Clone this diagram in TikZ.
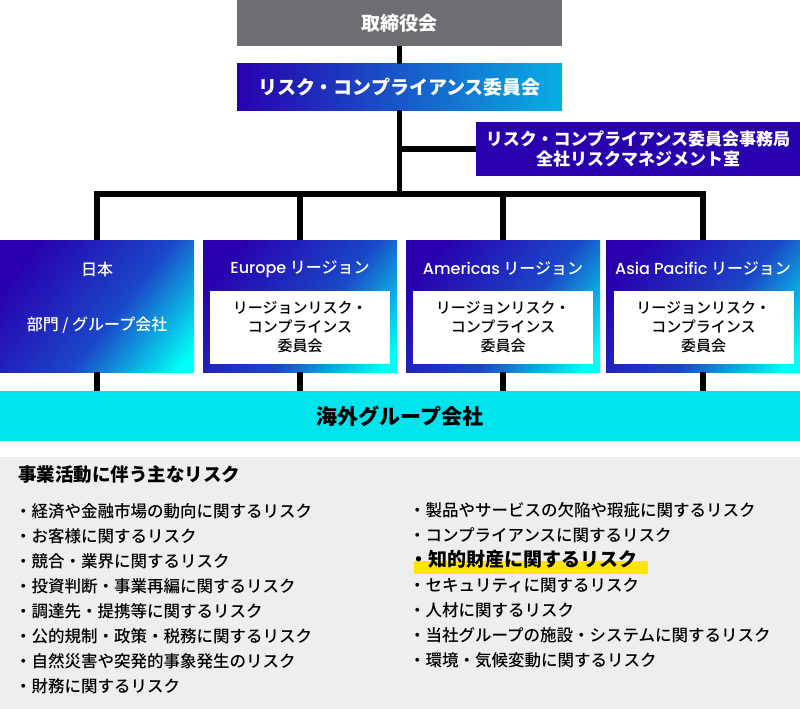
\documentclass[tikz,border=0pt]{standalone}
\usepackage{fontspec}
\setmainfont{Noto Sans CJK JP}
\newfontfamily\mediumfont{Noto Sans CJK JP Medium}
\newfontfamily\latinfont{Poppins Medium}
\definecolor{boardgray}{HTML}{6D6E71}
\definecolor{deepblue}{HTML}{2800AE}
\definecolor{royal}{HTML}{1A48C8}
\definecolor{skyblue}{HTML}{08AEE4}
\definecolor{aqua}{HTML}{00FFF6}
\definecolor{groupcyan}{HTML}{00E5EB}
\definecolor{panelgray}{HTML}{EEEEEE}
\definecolor{marker}{HTML}{FFE600}
\pgfdeclarehorizontalshading{regionfade}{100bp}{color(0bp)=(deepblue); color(24bp)=(deepblue); color(56bp)=(royal); color(81bp)=(aqua); color(100bp)=(aqua)}
\tikzset{
    link/.style={line width=5.5pt},
    headbox/.style={text=white, font=\bfseries\fontsize{19}{23}\selectfont, minimum width=325pt, minimum height=46pt, inner sep=0pt},
    regionbox/.style={shade, shading=regionfade, shading angle=-38, minimum width=194pt, minimum height=132pt, inner sep=0pt},
    regiontitle/.style={text=white, font=\mediumfont\fontsize{16}{20}\selectfont, inner sep=0pt},
    councilbox/.style={fill=white, minimum width=180pt, minimum height=73pt, align=center, font=\mediumfont\fontsize{15}{19}\selectfont, inner sep=0pt}
}
\begin{document}
\begin{tikzpicture}[x=1pt,y=-1pt]
        % Draw canvas
        \useasboundingbox (0,0) rectangle (800,709);
        % Draw board and committee
        \node[headbox,fill=boardgray] (board) at (399.5,23) {取締役会};
        \node[headbox,left color=deepblue,right color=skyblue] (committee) at (399.5,87) {リスク・コンプライアンス委員会};
        \node[headbox,fill=deepblue,minimum width=324pt,minimum height=54pt,align=center,font=\bfseries\fontsize{17}{20}\selectfont] (office) at (638,149) {リスク・コンプライアンス委員会事務局\\全社リスクマネジメント室};
        % Draw region boxes
        \node[regionbox] (japan) at (97,306) {};
        \node[regionbox] (europe) at (300,306) {};
        \node[regionbox] (americas) at (503,306) {};
        \node[regionbox] (asia) at (703,306) {};
        % Draw region texts
        \node[regiontitle] (japantitle) at (97,269) {日本};
        \node[regiontitle] (japangroup) at (97,325) {部門 / グループ会社};
        \node[regiontitle] (europetitle) at (300,269) {{\latinfont Europe} リージョン};
        \node[regiontitle] (americastitle) at (503,269) {{\latinfont Americas} リージョン};
        \node[regiontitle] (asiatitle) at (703,269) {{\latinfont Asia Pacific} リージョン};
        \node[councilbox] (europecouncil) at (300,327.5) {リージョンリスク・\\コンプラインス\\委員会};
        \node[councilbox] (americascouncil) at (503,327.5) {リージョンリスク・\\コンプラインス\\委員会};
        \node[councilbox] (asiacouncil) at (703.5,327.5) {リージョンリスク・\\コンプラインス\\委員会};
        % Draw overseas group companies
        \node[fill=groupcyan,minimum width=800pt,minimum height=50pt,inner sep=0pt,font=\bfseries\fontsize{21}{25}\selectfont] (overseas) at (400,416) {海外グループ会社\hspace{14pt}};
        % Draw connectors
        \coordinate (hub) at (399.5,194);
        \draw[link] (board) -- (committee);
        \draw[link] (committee) -- (hub);
        \draw[link] (committee.south |- office.west) -- (office.west);
        \draw[link] (japan.north) -- (japan.north |- hub) -- (asia.north |- hub) -- (asia.north);
        \draw[link] (europe.north |- hub) -- (europe.north);
        \draw[link] (americas.north |- hub) -- (americas.north);
        \draw[link] (japan.south) -- (japan.south |- overseas.north);
        \draw[link] (europe.south) -- (europe.south |- overseas.north);
        \draw[link] (americas.south) -- (americas.south |- overseas.north);
        \draw[link] (asia.south) -- (asia.south |- overseas.north);
        % Draw risk panel
        \node[fill=panelgray,minimum width=800pt,minimum height=252pt,inner sep=0pt] (panel) at (400,583) {};
        \node[anchor=west,inner sep=0pt,font=\bfseries\fontsize{18.5}{22}\selectfont] (riskhead) at (18,475) {事業活動に伴う主なリスク};
        % Draw highlight bar
        \fill[marker] (414,561) rectangle (648,574);
        % Draw risk lists
        \node[anchor=north west,inner sep=0pt,align=left,font=\mediumfont\fontsize{16.5}{25}\selectfont] (leftrisks) at (15,503) {
            ・経済や金融市場の動向に関するリスク\\
            ・お客様に関するリスク\\
            ・競合・業界に関するリスク\\
            ・投資判断・事業再編に関するリスク\\
            ・調達先・提携等に関するリスク\\
            ・公的規制・政策・税務に関するリスク\\
            ・自然災害や突発的事象発生のリスク\\
            ・財務に関するリスク
        };
        \node[anchor=north west,inner sep=0pt,align=left,font=\mediumfont\fontsize{16.5}{25}\selectfont] (rightrisks) at (409,502) {
            ・製品やサービスの欠陥や瑕疵に関するリスク\\
            ・コンプライアンスに関するリスク\\
            {\normalfont\bfseries\fontsize{19}{25}\selectfont ・知的財産に関するリスク}\\
            ・セキュリティに関するリスク\\
            ・人材に関するリスク\\
            ・当社グループの施設・システムに関するリスク\\
            ・環境・気候変動に関するリスク
        };
\end{tikzpicture}
\end{document}
